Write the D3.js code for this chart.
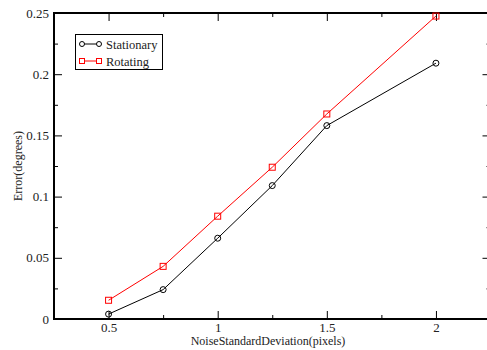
<!DOCTYPE html>
<html><head><meta charset="utf-8">
<script src="https://cdn.jsdelivr.net/npm/d3@7"></script>
<style>body{margin:0;background:#fff}svg{display:block}text{font-family:"Liberation Serif",serif}</style>
</head><body>
<script>
const xValues = [0.5, 0.75, 1, 1.25, 1.5, 2];
const stationary = [0.004, 0.024, 0.066, 0.109, 0.158, 0.209];
const rotating = [0.0153, 0.043, 0.084, 0.124, 0.1675, 0.2475];
const xMajorTicks = [0.5, 1, 1.5, 2];
const xMinorTicks = [0.25, 0.75, 1.25, 1.75, 2.25];
const yMajorTicks = [0, 0.05, 0.1, 0.15, 0.2, 0.25];
const yMinorTicks = [0.025, 0.075, 0.125, 0.175, 0.225];
const seriesNames = ["Stationary", "Rotating"];

const W = 487, H = 350;
const L = 54, T = 13, R = 490.5, B = 319;
const svg = d3.select("body").append("svg").attr("width", W).attr("height", H);
const x = d3.scaleLinear().domain([0.25, 2.25]).range([L, R]);
const y = d3.scaleLinear().domain([0, 0.25]).range([B, T]);
const font = "Liberation Serif";

// frame
svg.append("rect").attr("x", L).attr("y", T).attr("width", R - L).attr("height", B - T)
  .attr("fill", "none").attr("stroke", "#000").attr("stroke-width", 2);

const fmtY = d => d === 0 ? "0" : String(d);
// bottom axis
const gB = svg.append("g").attr("transform", `translate(0,${B})`);
gB.call(d3.axisBottom(x).tickValues(xMajorTicks).tickSize(-8).tickPadding(4).tickFormat(d => String(d)));
gB.append("g").call(d3.axisBottom(x).tickValues(xMinorTicks).tickSize(-4).tickFormat(""));
// top axis
const gT = svg.append("g").attr("transform", `translate(0,${T})`);
gT.call(d3.axisTop(x).tickValues(xMajorTicks).tickSize(-8).tickFormat(""));
gT.append("g").call(d3.axisTop(x).tickValues(xMinorTicks).tickSize(-4).tickFormat(""));
// left axis
const gL = svg.append("g").attr("transform", `translate(${L},0)`);
gL.call(d3.axisLeft(y).tickValues(yMajorTicks).tickSize(-8).tickPadding(5).tickFormat(fmtY));
gL.append("g").call(d3.axisLeft(y).tickValues(yMinorTicks).tickSize(-4).tickFormat(""));
// right axis
const gR = svg.append("g").attr("transform", `translate(${R},0)`);
gR.call(d3.axisRight(y).tickValues(yMajorTicks).tickSize(-8).tickFormat(""));
gR.append("g").call(d3.axisRight(y).tickValues(yMinorTicks).tickSize(-4).tickFormat(""));

svg.selectAll("g").attr("font-family", font);
svg.selectAll(".domain").remove();
svg.selectAll(".tick line").attr("stroke", "#000").attr("stroke-width", 1);
svg.selectAll(".tick text").attr("font-family", font).attr("font-size", 13).attr("fill", "#222");

// axis titles
svg.append("text").attr("x", 268).attr("y", 345).attr("text-anchor", "middle")
  .attr("font-family", font).attr("font-size", 12).attr("fill", "#222").text("NoiseStandardDeviation(pixels)");
svg.append("text").attr("transform", `translate(22,${(T + B) / 2}) rotate(-90)`).attr("text-anchor", "middle")
  .attr("font-family", font).attr("font-size", 12).attr("fill", "#222").text("Error(degrees)");

const line = d3.line().x((d, i) => x(xValues[i])).y(d => y(d));
// stationary
svg.append("path").datum(stationary).attr("d", line).attr("fill", "none").attr("stroke", "#000").attr("stroke-width", 1);
svg.selectAll(".cs").data(stationary).enter().append("circle")
  .attr("cx", (d, i) => x(xValues[i])).attr("cy", d => y(d)).attr("r", 3)
  .attr("fill", "none").attr("stroke", "#000").attr("stroke-width", 1);
// rotating
svg.append("path").datum(rotating).attr("d", line).attr("fill", "none").attr("stroke", "#ff0000").attr("stroke-width", 1);
svg.selectAll(".sq").data(rotating).enter().append("rect")
  .attr("x", (d, i) => x(xValues[i]) - 3).attr("y", d => y(d) - 3).attr("width", 6).attr("height", 6)
  .attr("fill", "none").attr("stroke", "#ff0000").attr("stroke-width", 1);

// legend
const lg = svg.append("g");
lg.append("rect").attr("x", 75.5).attr("y", 34.5).attr("width", 87).attr("height", 35)
  .attr("fill", "#fff").attr("stroke", "#000").attr("stroke-width", 1);
const ly = [44, 61];
seriesNames.forEach((n, i) => {
  const col = i === 0 ? "#000" : "#ff0000";
  lg.append("line").attr("x1", 82).attr("x2", 99).attr("y1", ly[i]).attr("y2", ly[i]).attr("stroke", col);
  [82, 99].forEach(cx => {
    if (i === 0) lg.append("circle").attr("cx", cx).attr("cy", ly[i]).attr("r", 2.5).attr("fill", "#fff").attr("stroke", col);
    else lg.append("rect").attr("x", cx - 2.5).attr("y", ly[i] - 2.5).attr("width", 5).attr("height", 5).attr("fill", "#fff").attr("stroke", col);
  });
  lg.append("text").attr("x", 106).attr("y", ly[i] + 4.5).attr("font-family", font).attr("font-size", 12.5)
    .attr("fill", "#222").text(n);
});
</script>
</body></html>
